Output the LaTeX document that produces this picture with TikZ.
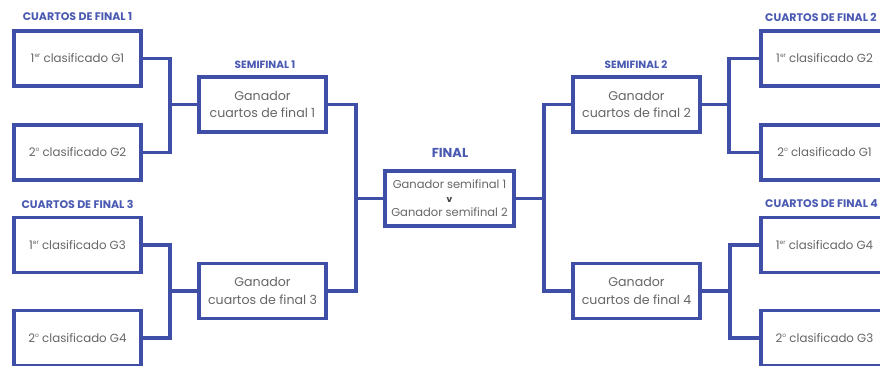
\documentclass[tikz,border=0pt]{standalone}
\usepackage{fontspec}
\setmainfont{Poppins}
\definecolor{bblue}{HTML}{3F4FA8}
\definecolor{tblue}{HTML}{4A5AB2}
\definecolor{tgray}{HTML}{666666}
\newcommand{\sups}[1]{\raisebox{0.45em}{\fontsize{6}{6}\selectfont #1}}
\tikzset{
  mbox/.style={draw=bblue, line width=3.5pt, fill=white, minimum width=127pt, minimum height=55pt, inner sep=0pt, outer sep=0pt, text=tgray, font=\fontsize{11.8}{14}\selectfont, align=center},
  sbox/.style={mbox, font=\fontsize{12.6}{17.5}\selectfont},
  fbox/.style={mbox, minimum width=129pt, font=\fontsize{11.5}{15}\selectfont},
  conn/.style={draw=bblue, line width=3.5pt, line join=miter},
  ttl/.style={text=tblue, font=\bfseries\fontsize{11}{12}\selectfont, inner sep=0pt}
}
\begin{document}
\begin{tikzpicture}[x=1pt,y=-1pt]
\useasboundingbox[fill=white] (0,0) rectangle (880,365);
\coordinate (j1) at (170,104.5);
\coordinate (j2) at (170,291);
\coordinate (j3) at (729,104.5);
\coordinate (j4) at (730,291);
\coordinate (j5) at (356,198.5);
\coordinate (j6) at (544,198.5);
% left quarterfinals
\node[mbox] (q1) at (77.5,58.5) {1\sups{er} clasificado G1};
\node[mbox] (q2) at (77.5,152.5) {2\sups{o} clasificado G2};
\node[mbox] (q3) at (77.5,245) {1\sups{er} clasificado G3};
\node[mbox] (q4) at (77.5,338) {2\sups{o} clasificado G4};
% right quarterfinals
\node[mbox] (r1) at (824.5,58.5) {1\sups{er} clasificado G2};
\node[mbox] (r2) at (824.5,152.5) {2\sups{o} clasificado G1};
\node[mbox] (r3) at (824.5,245) {1\sups{er} clasificado G4};
\node[mbox] (r4) at (824.5,338) {2\sups{o} clasificado G3};
% semifinals
\node[sbox] (s1) at (262.5,104.5) {Ganador\\cuartos de final 1};
\node[sbox] (s3) at (262.5,291) {Ganador\\cuartos de final 3};
\node[sbox] (s2) at (636.5,104.5) {Ganador\\cuartos de final 2};
\node[sbox] (s4) at (636.5,291) {Ganador\\cuartos de final 4};
% final
\node[fbox] (f) at (449.5,198.5) {Ganador semifinal 1\\[-1pt]{\bfseries\fontsize{9}{8}\selectfont\color{black!75} v}\\[-1pt]Ganador semifinal 2};
% connectors
\draw[conn] (q1.east) -| (j1) |- (q2.east);
\draw[conn] (j1) -- (s1.west);
\draw[conn] (q3.east) -| (j2) |- (q4.east);
\draw[conn] (j2) -- (s3.west);
\draw[conn] (r1.west) -| (j3) |- (r2.west);
\draw[conn] (j3) -- (s2.east);
\draw[conn] (r3.west) -| (j4) |- (r4.west);
\draw[conn] (j4) -- (s4.east);
\draw[conn] (s1.east) -| (j5) |- (s3.east);
\draw[conn] (j5) -- (f.west);
\draw[conn] (s2.west) -| (j6) |- (s4.west);
\draw[conn] (j6) -- (f.east);
% titles
\node[ttl] (t1) at (77.5,17) {CUARTOS DE FINAL 1};
\node[ttl, anchor=west] (t2) at (765,17) {CUARTOS DE FINAL 2};
\node[ttl] (t3) at (77.5,204) {CUARTOS DE FINAL 3};
\node[ttl, anchor=west] (t4) at (765,204) {CUARTOS DE FINAL 4};
\node[ttl, font=\bfseries\fontsize{10.5}{11}\selectfont] (ts1) at (265,65) {SEMIFINAL 1};
\node[ttl, font=\bfseries\fontsize{10.5}{11}\selectfont] (ts2) at (636,65) {SEMIFINAL 2};
\node[ttl, font=\bfseries\fontsize{13}{14}\selectfont] (tf) at (450,153) {FINAL};
\end{tikzpicture}
\end{document}
